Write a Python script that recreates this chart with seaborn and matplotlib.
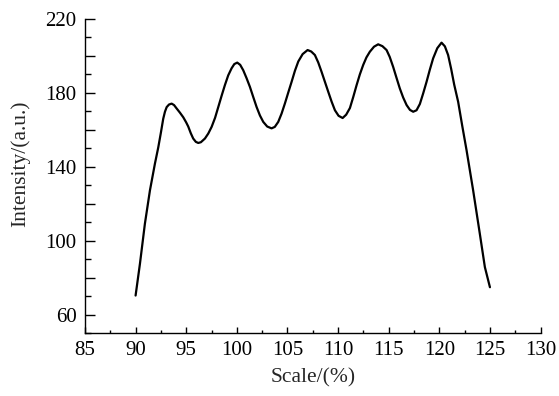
import pandas as pd
import seaborn as sns
import matplotlib.pyplot as plt
from matplotlib.ticker import MultipleLocator, FixedLocator, FixedFormatter

# values
scale = [90.0, 90.43, 90.92, 91.42, 91.91, 92.24, 92.5, 92.73, 92.9, 93.07,
         93.3, 93.56, 93.8, 94.05, 94.38, 94.71, 95.0, 95.2, 95.45, 95.69,
         95.95, 96.19, 96.45, 96.85, 97.18, 97.51, 97.85, 98.17, 98.5, 98.82,
         99.15, 99.48, 99.75, 100.04, 100.33, 100.63, 100.96, 101.29, 101.62, 101.95,
         102.28, 102.61, 103.0, 103.43, 103.75, 104.09, 104.42, 104.75, 105.08, 105.41,
         105.74, 106.07, 106.5, 106.99, 107.35, 107.71, 108.04, 108.37, 108.7, 109.03,
         109.36, 109.69, 110.05, 110.45, 110.8, 111.17, 111.5, 111.83, 112.15, 112.48,
         112.8, 113.14, 113.55, 113.96, 114.38, 114.79, 115.1, 115.44, 115.77, 116.1,
         116.43, 116.77, 117.1, 117.42, 117.75, 118.08, 118.41, 118.74, 119.06, 119.39,
         119.8, 120.22, 120.55, 120.87, 121.17, 121.47, 121.86, 122.27, 122.69, 123.34,
         124.0, 124.5, 125.0]
intensity = [70.3, 87.5, 109.2, 127.3, 141.7, 150.5, 158.5, 166.0, 169.8, 172.3,
             173.7, 174.2, 173.4, 171.6, 169.3, 166.8, 164.0, 161.8, 158.2, 155.3,
             153.5, 152.9, 153.3, 155.3, 158.0, 161.6, 166.5, 172.4, 178.5, 184.2,
             189.5, 193.3, 195.6, 196.4, 195.2, 192.3, 188.0, 183.3, 177.8, 172.4,
             167.8, 164.3, 161.8, 160.8, 161.6, 164.3, 168.8, 174.3, 180.2, 186.0,
             192.0, 197.0, 201.0, 203.2, 202.4, 200.5, 196.5, 191.4, 186.0, 180.6,
             175.3, 170.6, 167.6, 166.4, 168.2, 171.8, 177.8, 184.2, 190.0, 195.1,
             199.2, 202.3, 205.0, 206.3, 205.3, 203.2, 199.5, 194.1, 188.2, 182.4,
             177.5, 173.4, 170.8, 169.8, 170.6, 174.0, 179.8, 186.0, 192.5, 198.7,
             204.2, 207.2, 205.2, 200.5, 193.0, 184.5, 175.2, 162.0, 149.0, 127.3,
             103.8, 85.7, 74.8]

x_ticks = [85, 90, 95, 100, 105, 110, 115, 120, 125, 130]
y_ticks = [60, 80, 100, 120, 140, 160, 180, 200, 220]
y_labels = ["60", "", "100", "", "140", "", "180", "", "220"]

sns.set_style("ticks")
plt.rcParams['font.family'] = ['Liberation Serif', 'DejaVu Serif']

df = pd.DataFrame({"Scale/(%)": scale, "Intensity/(a.u.)": intensity})

fig = plt.figure(figsize=(5.59, 3.96), dpi=100)
ax = fig.add_axes([0.152, 0.159, 0.815, 0.793])
sns.lineplot(data=df, x="Scale/(%)", y="Intensity/(a.u.)", color="black",
             linewidth=1.6, estimator=None, sort=False, ax=ax)

ax.set_xlim(85, 130)
ax.set_ylim(50, 220)
ax.xaxis.set_major_locator(FixedLocator(x_ticks))
ax.xaxis.set_minor_locator(MultipleLocator(2.5))
ax.yaxis.set_major_locator(FixedLocator(y_ticks))
ax.yaxis.set_major_formatter(FixedFormatter(y_labels))
ax.yaxis.set_minor_locator(MultipleLocator(10))

ax.tick_params(axis='both', which='both', direction='in', colors='black',
               labelsize=15, width=1.0)
ax.tick_params(axis='x', which='major', length=4, pad=6)
ax.tick_params(axis='x', which='minor', length=2)
ax.tick_params(axis='y', which='major', length=7, pad=6)
ax.tick_params(axis='y', which='minor', length=4)

sns.despine(ax=ax)
for side in ['left', 'bottom']:
    ax.spines[side].set_linewidth(1.0)
    ax.spines[side].set_color('black')

ax.set_xlabel("Scale/(%)", fontsize=15.5, labelpad=6)
ax.set_ylabel("Intensity/(a.u.)", fontsize=15.5)
ax.yaxis.set_label_coords(-0.12, 0.54)

fig.savefig("out.png", dpi=100)
